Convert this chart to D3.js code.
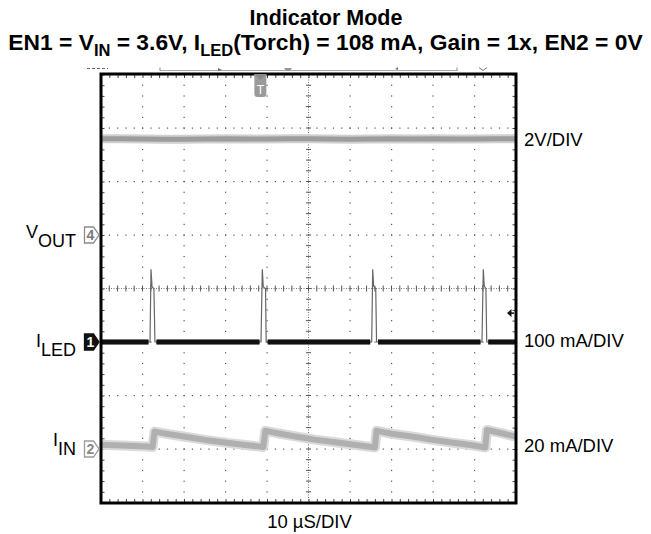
<!DOCTYPE html>
<html><head><meta charset="utf-8">
<script src="https://cdn.jsdelivr.net/npm/d3@7"></script>
<style>body{margin:0;background:#fff}svg{display:block}</style>
</head><body>
<svg id="c" width="651" height="534"></svg>
<script>
// ---------------- DATA ----------------
const timeDomain = [0, 100];            // µs (10 µs/div, 10 div)
const divDomain = [-4, 4];              // vertical divisions
const titleLine1 = "Indicator Mode";
const titleLine2 = [["EN1 = V",""],["IN","sub"],[" = 3.6V, I",""],["LED","sub"],["(Torch) = 108 mA, Gain = 1x, EN2 = 0V",""]];
const channelIds = ["4", "1", "2"];
const channelNames = [["V","OUT"], ["I","LED"], ["I","IN"]];
const channelRefDiv = [1, -1, -3];      // ground marker position (div)
const channelPerDiv = [2, 100, 20];     // V/div, mA/div, mA/div
const scaleLabels = ["2V/DIV", "100 mA/DIV", "20 mA/DIV"];
const timeLabel = "10 µS/DIV";
const triggerTime = 38.4;               // µs
const triggerLevel = 54;                // mA on ILED channel

// VOUT (V)
const voutT = [0, 5, 10, 15, 20, 25, 30, 35, 40, 45, 50, 55, 60, 65, 70, 75, 80, 85, 90, 95, 100];
const voutV = [3.60, 3.60, 3.59, 3.58, 3.58, 3.59, 3.60, 3.59, 3.59, 3.60, 3.60, 3.59, 3.58, 3.59, 3.60, 3.59, 3.60, 3.59, 3.59, 3.60, 3.60];

// ILED (mA)
const iledT  = [0, 11.81, 12.05, 12.3, 12.75, 13.0, 38.55, 38.87, 39.1, 39.65, 39.8, 65.23, 65.47, 65.7, 66.2, 66.4, 91.8, 92.12, 92.35, 92.75, 92.95, 100];
const iledMA = [0, 0, 136, 103, 100, 0, 0, 136, 103, 100, 0, 0, 136, 104, 100, 0, 0, 136, 104, 100, 0, 0];

// IIN (mA, relative to channel 2 reference)
const iinT  = [0, 5, 11, 12.4, 12.9, 13.6, 16.5, 20.7, 25.1, 30.4, 34.7, 38.7, 39.1, 39.6, 40.3, 43.2, 47.2, 51.5, 56.5, 61.0, 65.6, 66.0, 66.4, 67.1, 70.0, 75.3, 79.5, 84.5, 89.0, 92.3, 92.6, 93.0, 93.7, 96.5, 100];
const iinMA = [1.6, 1.3, 0.9, 0.7, 6.5, 6.3, 5.5, 4.5, 3.4, 2.3, 1.5, 0.85, 0.75, 6.8, 6.6, 5.7, 4.6, 3.5, 2.5, 1.6, 0.65, 0.6, 6.8, 6.6, 5.7, 4.6, 3.5, 2.4, 1.5, 0.65, 0.6, 7.1, 6.9, 5.9, 4.6];

// ---------------- LAYOUT ----------------
const L = {left: 101, right: 516, top: 74.5, bottom: 502.5};
const svg = d3.select("#c");
const font = "'Liberation Sans', Arial, Helvetica, sans-serif";

const x = d3.scaleLinear().domain(timeDomain).range([L.left, L.right]);
const yDiv = d3.scaleLinear().domain(divDomain).range([L.bottom, L.top]);
const chY = channelRefDiv.map((ref, i) => v => yDiv(ref + v / channelPerDiv[i]));

// ---------------- GRID ----------------
const g = svg.append("g");
const minorX = d3.range(0, 100.001, 2);
const minorY = d3.range(-4, 4.001, 0.2);
const majorX = d3.range(10, 91, 10).filter(t => t !== 50);
const majorY = d3.range(-3, 3.5, 1).filter(d => d !== 0);

majorX.forEach(t => {
  g.selectAll(null).data(minorY.slice(1, -1)).join("rect")
    .attr("x", x(t) - 0.5).attr("y", d => yDiv(d) - 0.5).attr("width", 1.2).attr("height", 1.2).attr("fill", "#555");
});
majorY.forEach(d0 => {
  g.selectAll(null).data(minorX.slice(1, -1)).join("rect")
    .attr("x", t => x(t) - 0.5).attr("y", yDiv(d0) - 0.5).attr("width", 1.2).attr("height", 1.2).attr("fill", "#555");
});
g.append("line").attr("x1", x(50)).attr("x2", x(50)).attr("y1", L.top).attr("y2", L.bottom)
  .attr("stroke", "#777").attr("stroke-width", 1).attr("stroke-dasharray", "1,1.5");
g.append("line").attr("x1", L.left).attr("x2", L.right).attr("y1", yDiv(0)).attr("y2", yDiv(0))
  .attr("stroke", "#777").attr("stroke-width", 1).attr("stroke-dasharray", "1,1.5");
g.selectAll(null).data(minorY).join("line")
  .attr("x1", x(50) - 2.5).attr("x2", x(50) + 2.5).attr("y1", d => yDiv(d)).attr("y2", d => yDiv(d))
  .attr("stroke", "#555").attr("stroke-width", 1);
g.selectAll(null).data(minorX).join("line")
  .attr("x1", t => x(t)).attr("x2", t => x(t)).attr("y1", yDiv(0) - 3).attr("y2", yDiv(0) + 3)
  .attr("stroke", "#555").attr("stroke-width", 1);

const tickLen = 3.5;
const axT = svg.append("g").attr("transform", `translate(0,${L.top})`)
  .call(d3.axisBottom(x).tickValues(minorX).tickSize(tickLen).tickFormat(""));
const axB = svg.append("g").attr("transform", `translate(0,${L.bottom})`)
  .call(d3.axisTop(x).tickValues(minorX).tickSize(tickLen).tickFormat(""));
const axL = svg.append("g").attr("transform", `translate(${L.left},0)`)
  .call(d3.axisRight(yDiv).tickValues(minorY).tickSize(tickLen).tickFormat(""));
const axR = svg.append("g").attr("transform", `translate(${L.right},0)`)
  .call(d3.axisLeft(yDiv).tickValues(minorY).tickSize(tickLen).tickFormat(""));
[axT, axB, axL, axR].forEach(a => { a.select(".domain").remove(); a.selectAll("line").attr("stroke", "#444"); });

// ---------------- TRACES ----------------
const tr = svg.append("g");
const lineOf = (T, V, fy) => d3.line().x((d, i) => x(T[i])).y((d, i) => fy(V[i]))(V);

const voutPath = lineOf(voutT, voutV, chY[0]);
tr.append("path").attr("d", voutPath).attr("fill", "none").attr("stroke", "#d0d0d0").attr("stroke-width", 9);
tr.append("path").attr("d", voutPath).attr("fill", "none").attr("stroke", "#9c9c9c").attr("stroke-width", 5);

const iinPath = lineOf(iinT, iinMA, chY[2]);
tr.append("path").attr("d", iinPath).attr("fill", "none").attr("stroke", "#dadada").attr("stroke-width", 10).attr("stroke-linejoin", "round");
tr.append("path").attr("d", iinPath).attr("fill", "none").attr("stroke", "#b0b0b0").attr("stroke-width", 6).attr("stroke-linejoin", "round");

const iledPath = lineOf(iledT, iledMA, chY[1]);
tr.append("path").attr("d", iledPath).attr("fill", "none").attr("stroke", "#666").attr("stroke-width", 1.2);
const flatSegs = [];
for (let i = 0; i < iledT.length - 1; i++) {
  if (iledMA[i] === 0 && iledMA[i + 1] === 0) flatSegs.push([iledT[i], iledT[i + 1]]);
}
tr.selectAll(null).data(flatSegs).join("line")
  .attr("x1", d => x(d[0]) + (d[0] > 0 ? 1.5 : 0)).attr("x2", d => x(d[1]) - (d[1] < 100 ? 1.5 : 0))
  .attr("y1", chY[1](0)).attr("y2", chY[1](0))
  .attr("stroke", "#777").attr("stroke-width", 6);
tr.selectAll(null).data(flatSegs).join("line")
  .attr("x1", d => x(d[0]) + (d[0] > 0 ? 1.5 : 0)).attr("x2", d => x(d[1]) - (d[1] < 100 ? 1.5 : 0))
  .attr("y1", chY[1](0)).attr("y2", chY[1](0))
  .attr("stroke", "#111").attr("stroke-width", 4);

// ---------------- FRAME ----------------
svg.append("rect").attr("x", L.left).attr("y", L.top - 0.5).attr("width", L.right - L.left).attr("height", L.bottom - L.top + 1)
  .attr("fill", "none").attr("stroke", "#000").attr("stroke-width", 3);

// ---------------- MARKERS ----------------
const mk = svg.append("g");
const mStyles = [
  {fill: "#fff", stroke: "#8a8a8a", text: "#7a7a7a"},
  {fill: "#111", stroke: "#111", text: "#fff"},
  {fill: "#fff", stroke: "#9a9a9a", text: "#8a8a8a"}
];
channelIds.forEach((id, i) => {
  const yy = chY[i](0);
  const st = mStyles[i];
  mk.append("path").attr("d", `M84.5,${yy - 8}h9l5.5,8l-5.5,8h-9z`)
    .attr("fill", st.fill).attr("stroke", st.stroke).attr("stroke-width", 1.3);
  mk.append("text").attr("x", 90.5).attr("y", yy + 5).attr("text-anchor", "middle")
    .attr("font-family", font).attr("font-weight", "bold").attr("font-size", 14).attr("fill", st.text).text(id);
});

const tx = x(triggerTime);
mk.append("path").attr("d", `M${tx - 6},74 L${tx + 6},74 L${tx + 6},94 Q${tx + 6},97 ${tx + 3},97 L${tx - 3},97 Q${tx - 6},97 ${tx - 6},94 Z`)
  .attr("fill", "#9a9a9a");
mk.append("path").attr("d", `M${tx - 6},74 L${tx + 6},74 L${tx},80 Z`).attr("fill", "#888");
mk.append("text").attr("x", tx).attr("y", 93.5).attr("text-anchor", "middle").attr("font-family", font)
  .attr("font-size", 12).attr("fill", "#fff").text("T");

const ty = chY[1](triggerLevel);
mk.append("path").attr("d", `M507,${ty} L511.5,${ty - 4} L511.5,${ty + 4} Z`).attr("fill", "#111");
mk.append("line").attr("x1", 510).attr("x2", 514).attr("y1", ty).attr("y2", ty).attr("stroke", "#111").attr("stroke-width", 1.5);

const barG = svg.append("g").attr("stroke", "#999").attr("fill", "none");
barG.append("line").attr("x1", 87).attr("x2", 108).attr("y1", 68.5).attr("y2", 68.5).attr("stroke-dasharray", "3,2").attr("stroke", "#666");
barG.append("line").attr("x1", 160).attr("x2", 457).attr("y1", 70.5).attr("y2", 70.5).attr("stroke", "#aaa");
barG.append("line").attr("x1", 160).attr("x2", 160).attr("y1", 67.5).attr("y2", 71).attr("stroke", "#888");
barG.append("line").attr("x1", 457).attr("x2", 457).attr("y1", 67.5).attr("y2", 71).attr("stroke", "#888");
svg.append("path").attr("d", "M218,68 l4,2 l-4,1z").attr("fill", "#666");
svg.append("path").attr("d", "M284,68 h8 l-2,3 h-4z").attr("fill", "#999");
svg.append("path").attr("d", "M395,69 l3,-2 v3z").attr("fill", "#777");
svg.append("path").attr("d", "M479,67.5 l4,3 l4,-3").attr("stroke", "#777").attr("fill", "none");

// ---------------- TEXT ----------------
const tg = svg.append("g").attr("font-family", font).attr("fill", "#000");
tg.append("text").attr("x", 326).attr("y", 25).attr("text-anchor", "middle")
  .attr("font-weight", "bold").attr("font-size", 21.5).text(titleLine1);
const t2 = tg.append("text").attr("x", 325.5).attr("y", 49.5).attr("text-anchor", "middle")
  .attr("font-weight", "bold").attr("font-size", 22.8);
titleLine2.forEach(([s, kind], i) => {
  const prev = i > 0 ? titleLine2[i - 1][1] : "";
  const ts = t2.append("tspan").text(s);
  if (kind === "sub") ts.attr("font-size", 16.5).attr("dy", 6);
  else if (prev === "sub") ts.attr("dy", -6);
});

const nameOffsets = [2.5, 5, -3];
channelNames.forEach(([m, s], i) => {
  const t = tg.append("text").attr("x", 76).attr("y", chY[i](0) + nameOffsets[i]).attr("text-anchor", "end").attr("font-size", 18);
  t.append("tspan").text(m);
  t.append("tspan").attr("dy", 9).text(s);
});

const scaleY = [146, 346.5, 451.5];
scaleLabels.forEach((s, i) => {
  tg.append("text").attr("x", 524).attr("y", scaleY[i]).attr("font-size", 18.5).text(s);
});
tg.append("text").attr("x", x(50) + 1).attr("y", 528).attr("text-anchor", "middle").attr("font-size", 18.5).text(timeLabel);
</script>
</body></html>
